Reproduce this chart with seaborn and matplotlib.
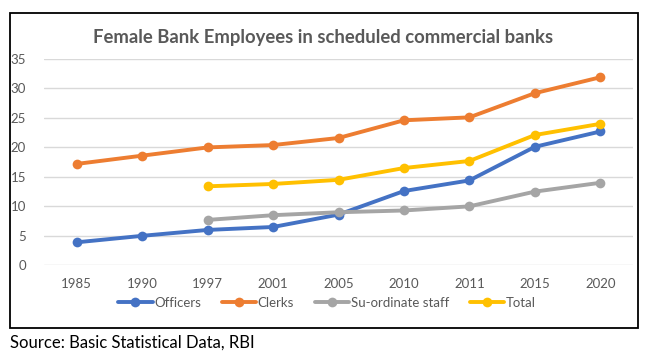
import matplotlib
matplotlib.use("Agg")
import matplotlib.pyplot as plt
import seaborn as sns
import pandas as pd
import numpy as np
from matplotlib.patches import Rectangle
from matplotlib.lines import Line2D

years = ["1985", "1990", "1997", "2001", "2005", "2010", "2011", "2015", "2020"]
officers = [3.9, 5.0, 6.0, 6.5, 8.6, 12.6, 14.4, 20.1, 22.7]
clerks = [17.2, 18.6, 20.0, 20.4, 21.6, 24.6, 25.1, 29.2, 31.9]
subordinate = [None, None, 7.7, 8.5, 9.0, 9.3, 10.0, 12.5, 14.0]
total = [None, None, 13.4, 13.8, 14.5, 16.5, 17.7, 22.1, 24.0]
series_names = ["Officers", "Clerks", "Su-ordinate staff", "Total"]
colors = ["#4472C4", "#ED7D31", "#A5A5A5", "#FFC000"]

rows = []
for name, vals in zip(series_names, [officers, clerks, subordinate, total]):
    for y, v in zip(years, vals):
        if v is not None:
            rows.append({"Year": y, "Value": v, "Series": name})
df = pd.DataFrame(rows)

sns.set_style("white")
plt.rcParams["font.family"] = ["Lato", "DejaVu Sans"]

fig = plt.figure(figsize=(6.5, 3.62), dpi=100)
ax = fig.add_axes([44/650, 1-265.3/362, (633-44)/650, 206.3/362])

palette = dict(zip(series_names, colors))
ax.set_xlim(-0.5, len(years) - 0.5)
sns.lineplot(data=df, x="Year", y="Value", hue="Series", palette=palette,
             hue_order=series_names, marker="o", markersize=7, linewidth=2.8,
             markeredgewidth=0, ax=ax, legend=False, sort=False)
ax.set_xlim(-0.5, len(years) - 0.5)
ax.set_ylim(0, 35)
ax.set_yticks(np.arange(0, 36, 5))
ax.grid(axis="y", color="#D9D9D9", linewidth=1)
ax.set_axisbelow(True)
for s in ax.spines.values():
    s.set_visible(False)
ax.set_xlabel("")
ax.set_ylabel("")
ax.tick_params(axis="both", length=0, labelsize=9.5, colors="#595959")
ax.tick_params(axis="y", pad=13)
ax.tick_params(axis="x", pad=9)

fig.text(323/650, 1-38/362, "Female Bank Employees in scheduled commercial banks",
         ha="center", va="center", fontsize=13.3, fontweight="bold", color="#595959")

handles = [Line2D([0], [0], color=c, lw=2.8, marker="o", markersize=7, markeredgewidth=0)
           for c in colors]
fig.legend(handles, series_names, loc="center", bbox_to_anchor=(327/650, 1-303/362),
           ncol=4, frameon=False, fontsize=9.5, labelcolor="#595959",
           handlelength=2.6, handletextpad=0.1, columnspacing=1.6)

fig.patches.append(Rectangle((10/650, 1-328/362), 628/650, 315/362, transform=fig.transFigure,
                             fill=False, edgecolor="black", linewidth=1.3))
fig.text(10/650, 1-343/362, "Source: Basic Statistical Data, RBI", ha="left", va="center",
         fontsize=12, color="black")

fig.savefig("out.png", dpi=100)
